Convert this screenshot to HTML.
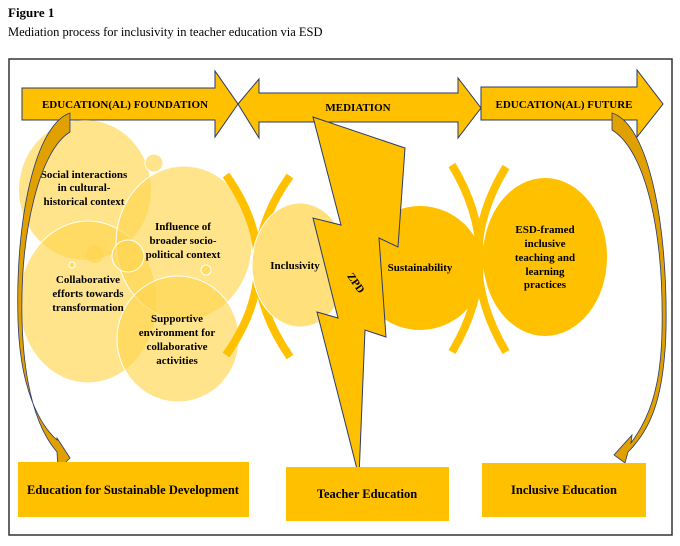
<!DOCTYPE html>
<html><head><meta charset="utf-8"><style>
html,body{margin:0;padding:0;background:#fff;}
svg{display:block;}
text{font-family:"Liberation Serif",serif;}
</style></head><body>
<svg width="680" height="546" viewBox="0 0 680 546" xmlns="http://www.w3.org/2000/svg">
<text x="8" y="17" font-size="13" font-weight="bold">Figure 1</text>
<text x="8" y="36" font-size="12.5">Mediation process for inclusivity in teacher education via ESD</text>
<rect x="9" y="59" width="663" height="476" fill="#fff" stroke="#333" stroke-width="1.5"/>

<polygon points="22,88 215,88 215,71 238,104 215,137 215,120 22,120" fill="#FFC000" stroke="#2a3a6a" stroke-width="1"/>
<polygon points="238,104 259,79 259,93 458,93 458,78 481,108 458,138 458,122 259,122 259,138" fill="#FFC000" stroke="#2a3a6a" stroke-width="1"/>
<polygon points="481,87 637,87 637,70 663,104 637,137 637,120 481,120" fill="#FFC000" stroke="#2a3a6a" stroke-width="1"/>
<text x="125" y="108" font-size="11" font-weight="bold" text-anchor="middle">EDUCATION(AL) FOUNDATION</text>
<text x="358" y="111" font-size="11" font-weight="bold" text-anchor="middle">MEDIATION</text>
<text x="564" y="108" font-size="11" font-weight="bold" text-anchor="middle">EDUCATION(AL) FUTURE</text>

<g fill="#FFD54F" fill-opacity="0.65" stroke="#fff" stroke-width="1">
<ellipse cx="85" cy="190" rx="66" ry="70" stroke="none"/>
<ellipse cx="88" cy="302" rx="69" ry="81"/>
<ellipse cx="184" cy="243" rx="68" ry="77"/>
<ellipse cx="178" cy="339" rx="61" ry="63"/>
<circle cx="154" cy="163" r="9"/>
<circle cx="95" cy="254" r="9" stroke="none"/>
<circle cx="128" cy="256" r="16"/>
<circle cx="72" cy="265" r="3"/>
<circle cx="206" cy="270" r="5"/>
</g>

<g fill="none" stroke="#FFC000" stroke-width="8">
<path d="M226,175 Q290,265 226,355"/>
<path d="M290,176 Q226,265 290,357"/>
<path d="M452,165 Q508,258 452,352"/>
<path d="M506,167 Q450,258 506,352"/>
</g>

<ellipse cx="300" cy="265" rx="48" ry="62" fill="#FFE07A" stroke="#fff" stroke-width="1"/>
<ellipse cx="420" cy="268" rx="63" ry="62" fill="#FFC000"/>
<ellipse cx="545" cy="257" rx="62" ry="79" fill="#FFC000"/>

<polygon points="313,117 405,148 398,247 379,238 386,337 365,330 359,477 317,312 338,318 313,218 341,225" fill="#FFC000" stroke="#2a3a6a" stroke-width="1"/>

<text x="295" y="269" font-size="11" font-weight="bold" text-anchor="middle">Inclusivity</text>
<text x="420" y="271" font-size="11" font-weight="bold" text-anchor="middle">Sustainability</text>
<text x="353" y="285" font-size="11" font-weight="bold" text-anchor="middle" transform="rotate(55 353 285)">ZPD</text>
<g font-size="11" font-weight="bold" text-anchor="middle">
<text x="545" y="233">ESD-framed</text>
<text x="545" y="247">inclusive</text>
<text x="545" y="261">teaching and</text>
<text x="545" y="275">learning</text>
<text x="545" y="288">practices</text>
<text x="84" y="178">Social interactions</text>
<text x="84" y="191">in cultural-</text>
<text x="84" y="205">historical context</text>
<text x="183" y="230">Influence of</text>
<text x="183" y="244">broader socio-</text>
<text x="183" y="258">political context</text>
<text x="88" y="283">Collaborative</text>
<text x="88" y="297">efforts towards</text>
<text x="88" y="311">transformation</text>
<text x="177" y="322">Supportive</text>
<text x="177" y="336">environment for</text>
<text x="177" y="350">collaborative</text>
<text x="177" y="364">activities</text>
</g>

<path d="M70,113 C35,125 15,220 18,320 C20,390 40,425 57,440 L57,438 L70,458 L58,470 L57,452 C38,430 24,390 22,320 C20,230 40,150 70,132 Z" fill="#E0A000" stroke="#2a3a6a" stroke-width="0.8"/>
<path d="M612,113 C650,125 668,230 666,330 C664,400 650,430 628,452 L625,463 L614,455 L632,435 L631,443 C648,420 661,390 662,330 C664,230 645,150 612,130 Z" fill="#E0A000" stroke="#2a3a6a" stroke-width="0.8"/>

<rect x="18" y="462" width="231" height="55" fill="#FFC000"/>
<rect x="286" y="467" width="163" height="54" fill="#FFC000"/>
<rect x="482" y="463" width="164" height="54" fill="#FFC000"/>
<g font-size="12.5" font-weight="bold" text-anchor="middle">
<text x="133" y="494">Education for Sustainable Development</text>
<text x="367" y="498">Teacher Education</text>
<text x="564" y="494">Inclusive Education</text>
</g>
</svg>
</body></html>
